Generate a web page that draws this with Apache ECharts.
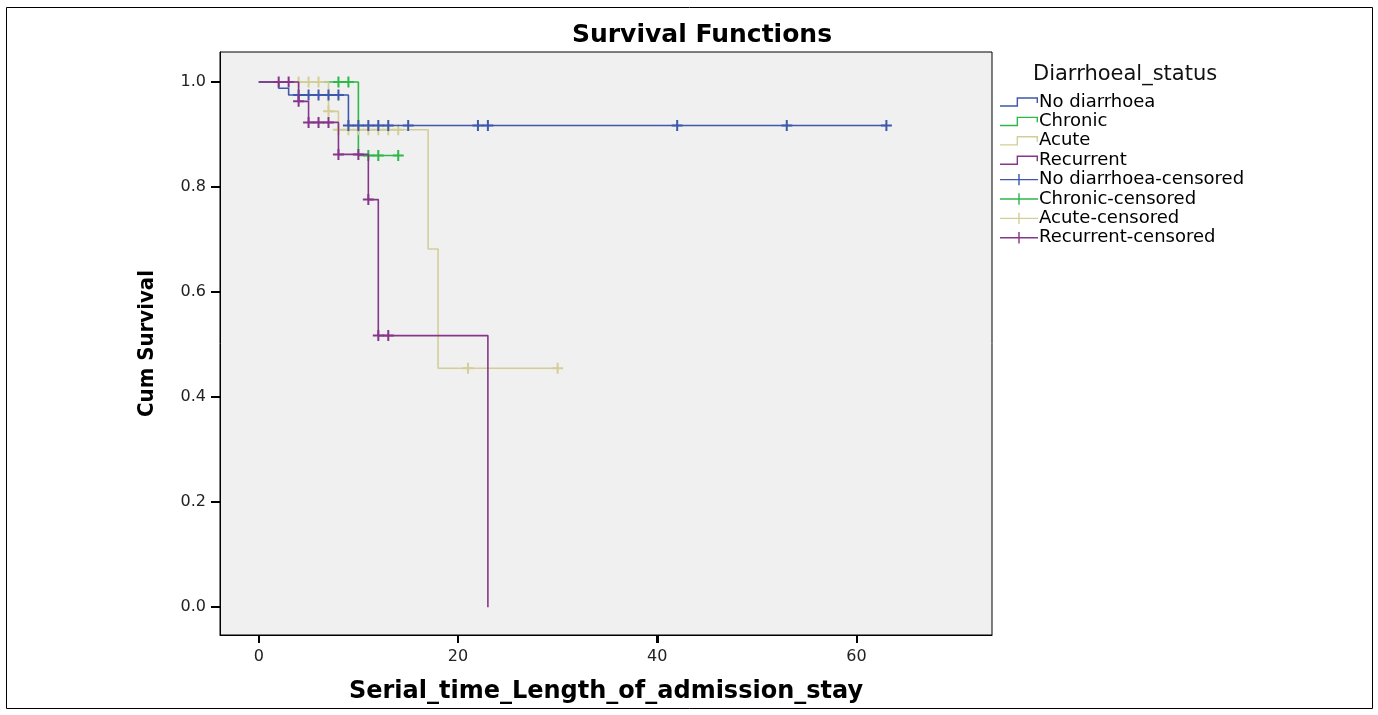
<!DOCTYPE html>
<html>
<head>
<meta charset="utf-8">
<title>Survival Functions</title>
<script src="https://cdn.jsdelivr.net/npm/echarts@6/dist/echarts.min.js"></script>
<style>
    html, body { margin: 0; padding: 0; background: #fff; }
    #chart { width: 1378px; height: 715px; }
</style>
</head>
<body>
<div id="chart"></div>
<script>

// [ Data ]
const groupNames = ['No diarrhoea', 'Chronic', 'Acute', 'Recurrent'];

const noDiarrhoeaTimes = [0, 2, 3, 9];
const noDiarrhoeaSurv = [1, 0.988, 0.975, 0.917];
const noDiarrhoeaCensored = [4, 5, 6, 7, 8, 9, 10, 11, 12, 13, 15, 22, 23, 42, 53, 63];

const chronicTimes = [0, 10];
const chronicSurv = [1, 0.86];
const chronicCensored = [8, 9, 11, 12, 14];

const acuteTimes = [0, 7, 8, 17, 18];
const acuteSurv = [1, 0.944, 0.909, 0.682, 0.455];
const acuteCensored = [4, 5, 6, 7, 8, 9, 10, 11, 12, 13, 14, 21, 30];

const recurrentTimes = [0, 4, 5, 8, 11, 12, 23];
const recurrentSurv = [1, 0.963, 0.923, 0.862, 0.776, 0.517, 0];
const recurrentCensored = [2, 3, 4, 5, 6, 7, 8, 10, 11, 12, 13];

const xTicks = [0, 20, 40, 60];
const yTicks = [0, 0.2, 0.4, 0.6, 0.8, 1.0];

// axis ranges (frame sits a little outside the data)
const xMin = -3.89, xMax = 73.6;
const yMin = -0.053, yMax = 1.057;

// styles
const colors = ['#3e58ac', '#2eb848', '#d3ce97', '#86368a'];
const drawOrder = [4, 2, 3, 5];
const fontMain = '"DejaVu Sans", "Liberation Sans", Arial, sans-serif';
const gridBox = { left: 220, top: 52, width: 772, height: 583 };

const stepIcon = 'path://M0,8.5 H17.5 V0 H40 V6 H38.5 V1.5 H19 V10 H0 Z';
const plusIcon = 'path://M0,5.25 H19.25 V0 H20.75 V5.25 H40 V6.75 H20.75 V12 H19.25 V6.75 H0 Z';
const plusMark = 'path://M4.5,0 H6.5 V4.5 H11 V6.5 H6.5 V11 H4.5 V6.5 H0 V4.5 H4.5 Z';

const groups = [
    { times: noDiarrhoeaTimes, surv: noDiarrhoeaSurv, censored: noDiarrhoeaCensored },
    { times: chronicTimes, surv: chronicSurv, censored: chronicCensored },
    { times: acuteTimes, surv: acuteSurv, censored: acuteCensored },
    { times: recurrentTimes, surv: recurrentSurv, censored: recurrentCensored }
];

function survAt(times, surv, t) {
    let s = surv[0];
    for (let i = 0; i < times.length; i++) {
        if (times[i] <= t) s = surv[i];
    }
    return s;
}

function stepData(g) {
    const pts = g.times.map((t, i) => [t, g.surv[i]]);
    const lastEvent = g.times[g.times.length - 1];
    const lastCens = Math.max(...g.censored);
    // curve runs on to the last censored case
    if (lastCens > lastEvent) pts.push([lastCens, g.surv[g.surv.length - 1]]);
    return pts;
}

const series = [];

groups.forEach((g, i) => {
    series.push({
        name: groupNames[i],
        type: 'line',
        step: 'end',
        symbol: 'none',
        z: drawOrder[i],
        lineStyle: { color: colors[i], width: 1.6 },
        itemStyle: { color: colors[i] },
        data: stepData(g)
    });
});

groups.forEach((g, i) => {
    series.push({
        name: groupNames[i] + '-censored',
        type: 'scatter',
        symbol: plusMark,
        symbolSize: 11,
        z: drawOrder[i],
        itemStyle: { color: colors[i], opacity: 1 },
        data: g.censored.map(t => [t, survAt(g.times, g.surv, t)])
    });
});

const legendData = groupNames.map(n => ({ name: n, icon: stepIcon }))
    .concat(groupNames.map(n => ({ name: n + '-censored', icon: plusIcon })));

// outside tick marks on the frame
const frameLeft = gridBox.left;
const frameBottom = gridBox.top + gridBox.height;

function xPix(v) {
    return gridBox.left + (v - xMin) / (xMax - xMin) * gridBox.width;
}
function yPix(v) {
    return gridBox.top + (yMax - v) / (yMax - yMin) * gridBox.height;
}

const tickMarks = [];
xTicks.forEach(v => {
    const px = Math.round(xPix(v));
    tickMarks.push({
        type: 'rect', silent: true, z: 100,
        shape: { x: px - 1, y: frameBottom, width: 2, height: 8 },
        style: { fill: '#000' }
    });
});
yTicks.forEach(v => {
    const py = Math.round(yPix(v));
    tickMarks.push({
        type: 'rect', silent: true, z: 100,
        shape: { x: frameLeft - 9, y: py - 1, width: 9, height: 2 },
        style: { fill: '#000' }
    });
});

const frame = {
    type: 'rect',
    silent: true,
    shape: { x: 6.5, y: 7.5, width: 1366, height: 701 },
    style: { fill: 'none', stroke: '#000', lineWidth: 1 }
};

const chart = echarts.init(document.getElementById('chart'));

chart.setOption({
    animation: false,
    backgroundColor: '#fff',
    title: [
        {
            text: 'Survival Functions',
            left: 697,
            top: 18,
            textAlign: 'center',
            textStyle: { fontFamily: fontMain, fontSize: 25, fontWeight: 'bold', color: '#000' }
        },
        {
            text: 'Diarrhoeal_status',
            left: 1028,
            top: 59,
            textStyle: { fontFamily: fontMain, fontSize: 21, fontWeight: 'normal', color: '#111' }
        }
    ],
    legend: {
        orient: 'vertical',
        left: 995,
        top: 88,
        itemWidth: 38,
        itemHeight: 12,
        itemGap: 1.4,
        selectedMode: false,
        textStyle: { fontFamily: fontMain, fontSize: 18, lineHeight: 15, color: '#000', padding: [0, 0, 0, -4] },
        data: legendData
    },
    grid: {
        left: gridBox.left,
        top: gridBox.top,
        width: gridBox.width,
        height: gridBox.height,
        show: true,
        backgroundColor: '#f0f0f0',
        borderColor: '#000',
        borderWidth: 1,
        containLabel: false
    },
    xAxis: {
        type: 'value',
        min: xMin,
        max: xMax,
        name: 'Serial_time_Length_of_admission_stay',
        nameLocation: 'middle',
        nameGap: 45,
        nameTextStyle: { fontFamily: fontMain, fontSize: 24, fontWeight: 'bold', color: '#000' },
        axisLine: { show: true, onZero: false, lineStyle: { color: '#000', width: 1 } },
        axisTick: { show: true, length: 8, customValues: xTicks, lineStyle: { color: '#000', width: 2 } },
        axisLabel: { customValues: xTicks, margin: 14, fontFamily: fontMain, fontSize: 16, color: '#222' },
        splitLine: { show: false }
    },
    yAxis: {
        type: 'value',
        min: yMin,
        max: yMax,
        name: 'Cum Survival',
        nameLocation: 'middle',
        nameGap: 62,
        nameTextStyle: {
            fontFamily: '"DejaVu Sans Condensed", "Liberation Sans", Arial, sans-serif',
            fontSize: 22,
            fontWeight: 'bold',
            color: '#000'
        },
        axisLine: { show: true, onZero: false, lineStyle: { color: '#000', width: 1 } },
        axisTick: { show: true, length: 9, customValues: yTicks, lineStyle: { color: '#000', width: 2 } },
        axisLabel: {
            customValues: yTicks,
            margin: 14,
            fontFamily: fontMain,
            fontSize: 16,
            color: '#222',
            formatter: v => v.toFixed(1)
        },
        splitLine: { show: false }
    },
    graphic: [frame].concat(tickMarks),
    series: series
});

</script>
</body>
</html>
